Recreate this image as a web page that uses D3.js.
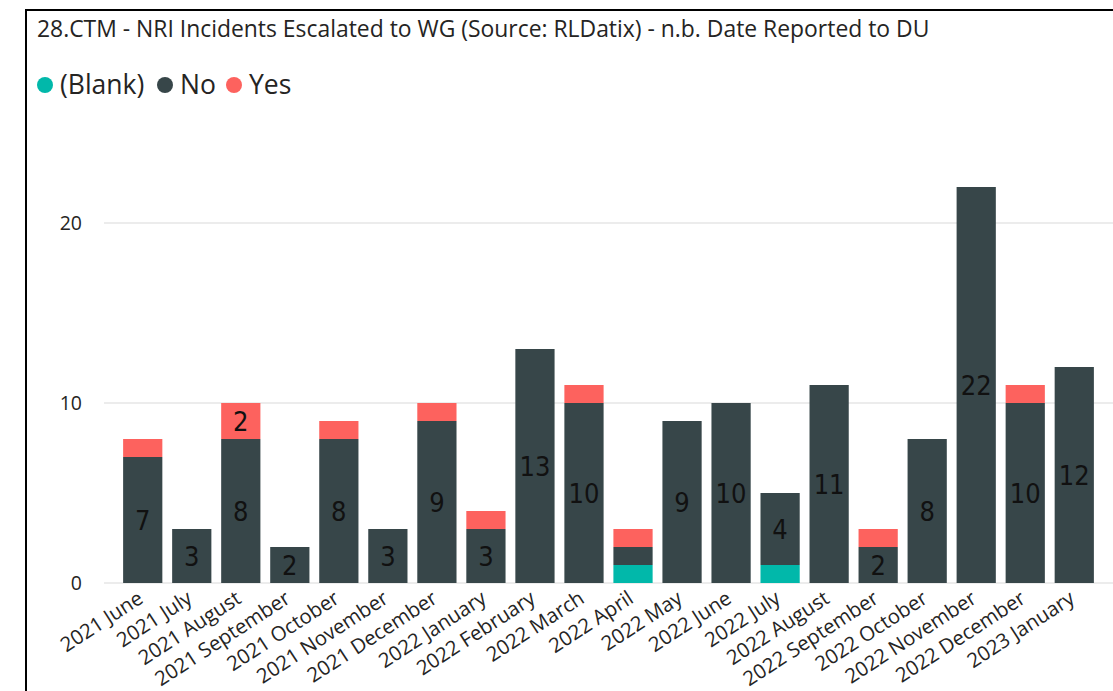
<!DOCTYPE html>
<html>
<head>
<meta charset="utf-8">
<script src="https://cdn.jsdelivr.net/npm/d3@7"></script>
<style>
  body { margin: 0; background: #fff; }
  svg { display: block; }
</style>
</head>
<body>
<div id="chart"></div>
<script>
const months = ['2021 June', '2021 July', '2021 August', '2021 September', '2021 October',
  '2021 November', '2021 December', '2022 January', '2022 February', '2022 March',
  '2022 April', '2022 May', '2022 June', '2022 July', '2022 August',
  '2022 September', '2022 October', '2022 November', '2022 December', '2023 January']
const blank = [0, 0, 0, 0, 0, 0, 0, 0, 0, 0, 1, 0, 0, 1, 0, 0, 0, 0, 0, 0]
const no    = [7, 3, 8, 2, 8, 3, 9, 3, 13, 10, 1, 9, 10, 4, 11, 2, 8, 22, 10, 12]
const yes   = [1, 0, 2, 0, 1, 0, 1, 1, 0, 1, 1, 0, 0, 0, 0, 1, 0, 0, 1, 0]
const seriesNames = ['(Blank)', 'No', 'Yes']
const yTicks = [0, 10, 20]

const width = 1113
const height = 691
const colors = { '(Blank)': '#01B8AA', 'No': '#374649', 'Yes': '#FD625E' }

const table = months.map((m, i) => ({ month: m, '(Blank)': blank[i], 'No': no[i], 'Yes': yes[i] }))
const stacked = d3.stack().keys(seriesNames)(table)

const svg = d3.select('#chart')
              .append('svg')
              .attr('width', width)
              .attr('height', height)

// frame, runs off the right and bottom
svg.append('path')
   .attr('d', `M26,${height + 5}V10H${width + 5}`)
   .attr('fill', 'none')
   .attr('stroke', '#000')
   .attr('stroke-width', 2)

svg.append('text')
   .attr('x', 37)
   .attr('y', 37)
   .attr('font-family', 'Open Sans')
   .attr('font-size', 22.9)
   .attr('fill', '#252423')
   .text('28.CTM - NRI Incidents Escalated to WG (Source: RLDatix) - n.b. Date Reported to DU')

// legend
const legendX = [45, 165, 234]
const legend = svg.append('g')
seriesNames.forEach((name, i) => {
  legend.append('circle')
        .attr('cx', legendX[i])
        .attr('cy', 85)
        .attr('r', 8)
        .attr('fill', colors[name])
  legend.append('text')
        .attr('x', legendX[i] + 15)
        .attr('y', 94)
        .attr('font-family', 'Open Sans')
        .attr('font-size', 26.5)
        .attr('fill', '#252423')
        .text(name)
})

const x = d3.scaleBand()
            .domain(months)
            .range([104, 1113])
            .paddingInner(0.2)
            .paddingOuter(0.39)

const y = d3.scaleLinear()
            .domain([0, 25])
            .range([583, 133])

// gridlines
svg.append('g')
   .selectAll('line')
   .data(yTicks)
   .enter().append('line')
   .attr('x1', 104)
   .attr('x2', width)
   .attr('y1', d => y(d))
   .attr('y2', d => y(d))
   .attr('stroke', '#e6e6e6')
   .attr('stroke-width', 1.5)

const yAxis = svg.append('g')
   .attr('transform', 'translate(82, 0)')
   .call(d3.axisLeft(y).tickValues(yTicks).tickSize(0).tickPadding(0))
yAxis.select('.domain').remove()
yAxis.selectAll('text')
     .attr('font-family', 'Open Sans')
     .attr('font-size', 19.5)
     .attr('fill', '#252423')

// bars
svg.append('g')
   .selectAll('g')
   .data(stacked)
   .enter().append('g')
   .attr('fill', d => colors[d.key])
   .selectAll('rect')
   .data(d => d)
   .enter().append('rect')
   .attr('x', d => x(d.data.month))
   .attr('y', d => y(d[1]))
   .attr('width', x.bandwidth())
   .attr('height', d => y(d[0]) - y(d[1]))

// value labels, only where the segment has room
svg.append('g')
   .selectAll('g')
   .data(stacked)
   .enter().append('g')
   .selectAll('text')
   .data(d => d.filter(s => s[1] - s[0] >= 2))
   .enter().append('text')
   .attr('x', d => x(d.data.month) + x.bandwidth() / 2)
   .attr('y', d => y((d[0] + d[1]) / 2))
   .attr('dy', '0.36em')
   .attr('text-anchor', 'middle')
   .attr('font-family', "'Liberation Sans Narrow', 'DejaVu Sans Condensed', sans-serif")
   .attr('font-size', 27)
   .attr('fill', '#111')
   .text(d => d[1] - d[0])

// x axis labels
const xAxis = svg.append('g')
   .attr('transform', `translate(0, ${y(0)})`)
   .call(d3.axisBottom(x).tickSize(0).tickPadding(0))
xAxis.select('.domain').remove()
xAxis.selectAll('text')
     .attr('font-family', 'Open Sans')
     .attr('font-size', 20.3)
     .attr('fill', '#252423')
     .attr('text-anchor', 'end')
     .attr('dy', '0.75em')
     .attr('transform', 'translate(-6.5, 6) rotate(-33)')
</script>
</body>
</html>
